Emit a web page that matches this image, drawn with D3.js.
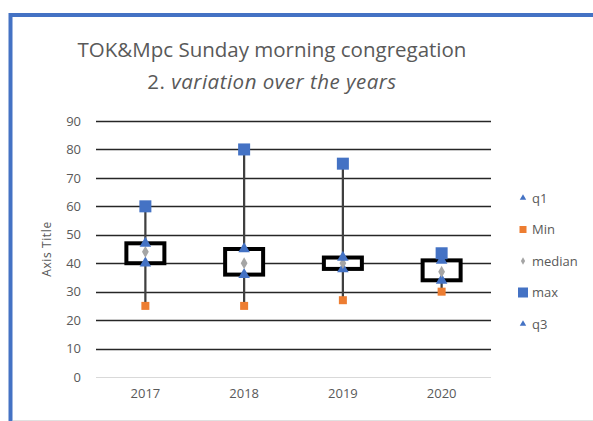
<!DOCTYPE html>
<html>
<head>
<meta charset="utf-8">
<script src="https://d3js.org/d3.v7.min.js"></script>
<style>
body {margin:0; background:white;}
text {font-family: "Open Sans", "Noto Sans", sans-serif;}
</style>
</head>
<body>
<svg width="593" height="421"></svg>
<script>
// values
var years = ["2017", "2018", "2019", "2020"];
var q1 = [40, 36, 38, 34];
var minV = [25, 25, 27, 30];
var median = [44, 40, 40, 37];
var maxV = [60, 80, 75, 43.5];
var q3 = [47, 45, 42, 41];
var yTicks = [0, 10, 20, 30, 40, 50, 60, 70, 80, 90];
var legendNames = ["q1", "Min", "median", "max", "q3"];

var blue = "#4472C4", orange = "#ED7D31", gray = "#A5A5A5", textCol = "#595959";

var svg = d3.select("svg");

// outer frame
svg.append("rect").attr("x", 10.5).attr("y", 15).attr("width", 600).attr("height", 420)
  .attr("fill", "none").attr("stroke", blue).attr("stroke-width", 4);
svg.append("line").attr("x1", 13).attr("x2", 593).attr("y1", 420.5).attr("y2", 420.5)
  .attr("stroke", "#e0e0e0").attr("stroke-width", 1);

var x = d3.scaleBand().domain(years).range([96, 491]);
var y = d3.scaleLinear().domain([0, 90]).range([377, 121]);

// title
svg.append("text").attr("x", 272).attr("y", 57).attr("text-anchor", "middle")
  .attr("fill", textCol).style("font-size", "20.5px").text("TOK&Mpc Sunday morning congregation");
var t2 = svg.append("text").attr("x", 272).attr("y", 89).attr("text-anchor", "middle")
  .attr("fill", textCol).style("font-size", "20.5px").style("letter-spacing", "0.5px");
t2.append("tspan").text("2. ");
t2.append("tspan").style("font-style", "italic").text("variation over the years");

// gridlines
svg.append("g").selectAll("line").data(yTicks).enter().append("line")
  .attr("x1", 96).attr("x2", 491)
  .attr("y1", function(d) { return Math.round(y(d)) + 0.5; })
  .attr("y2", function(d) { return Math.round(y(d)) + 0.5; })
  .attr("stroke", function(d) { return d == 0 ? "#d9d9d9" : "#262626"; })
  .attr("stroke-width", function(d) { return d == 0 ? 1 : 1.5; });

// axes labels
var yAxis = d3.axisLeft(y).tickValues(yTicks).tickSize(0).tickPadding(0);
var gy = svg.append("g").attr("transform", "translate(81,0)").call(yAxis);
gy.select(".domain").remove();
gy.selectAll("text").attr("fill", textCol).style("font-size", "13px");

var xAxis = d3.axisBottom(x).tickSize(0).tickPadding(0);
var gx = svg.append("g").attr("transform", "translate(0,389)").call(xAxis);
gx.select(".domain").remove();
gx.selectAll("text").attr("fill", textCol).style("font-size", "13px");

svg.append("text").attr("transform", "translate(51,249) rotate(-90)")
  .attr("text-anchor", "middle").attr("fill", textCol).style("font-size", "12px")
  .style("letter-spacing", "0.6px").text("Axis Title");

var idx = d3.range(years.length);
function cx(i) { return x(years[i]) + x.bandwidth() / 2; }

// high-low lines
svg.append("g").selectAll("line").data(idx).enter().append("line")
  .attr("x1", cx).attr("x2", cx)
  .attr("y1", function(i) { return y(maxV[i]); })
  .attr("y2", function(i) { return y(minV[i]); })
  .attr("stroke", "#404040").attr("stroke-width", 2.25);

// up bars q1 -> q3
svg.append("g").selectAll("rect").data(idx).enter().append("rect")
  .attr("x", function(i) { return cx(i) - 19; })
  .attr("width", 38)
  .attr("y", function(i) { return y(q3[i]); })
  .attr("height", function(i) { return y(q1[i]) - y(q3[i]); })
  .attr("fill", "white").attr("stroke", "black").attr("stroke-width", 4);

var tri = d3.symbol().type(d3.symbolTriangle).size(58);
var diamond = d3.symbol().type(d3.symbolDiamond).size(40);

function markers(vals, path, color) {
  svg.append("g").selectAll("path").data(idx).enter().append("path")
    .attr("d", path)
    .attr("transform", function(i) { return "translate(" + cx(i) + "," + y(vals[i]) + ")"; })
    .attr("fill", color);
}
function squares(vals, s, color) {
  svg.append("g").selectAll("rect").data(idx).enter().append("rect")
    .attr("x", function(i) { return cx(i) - s / 2; })
    .attr("y", function(i) { return y(vals[i]) - s / 2; })
    .attr("width", s).attr("height", s).attr("fill", color);
}
markers(q1, tri, blue);
squares(minV, 8, orange);
markers(median, diamond, gray);
squares(maxV, 12, blue);
markers(q3, tri, blue);

// legend
var legY = d3.scalePoint().domain(legendNames).range([198, 324]);
var lg = svg.append("g");
legendNames.forEach(function(n) {
  var yy = legY(n);
  if (n == "q1" || n == "q3") {
    lg.append("path").attr("d", d3.symbol().type(d3.symbolTriangle).size(18))
      .attr("transform", "translate(523," + yy + ")").attr("fill", blue);
  } else if (n == "Min") {
    lg.append("rect").attr("x", 519.5).attr("y", yy - 3.5).attr("width", 7).attr("height", 7).attr("fill", orange);
  } else if (n == "median") {
    lg.append("path").attr("d", d3.symbol().type(d3.symbolDiamond).size(16))
      .attr("transform", "translate(523," + yy + ")").attr("fill", gray);
  } else {
    lg.append("rect").attr("x", 518).attr("y", yy - 5).attr("width", 10).attr("height", 10).attr("fill", blue);
  }
  lg.append("text").attr("x", 532).attr("y", yy).attr("dy", "0.35em")
    .attr("fill", textCol).style("font-size", "13px").text(n);
});
</script>
</body>
</html>
